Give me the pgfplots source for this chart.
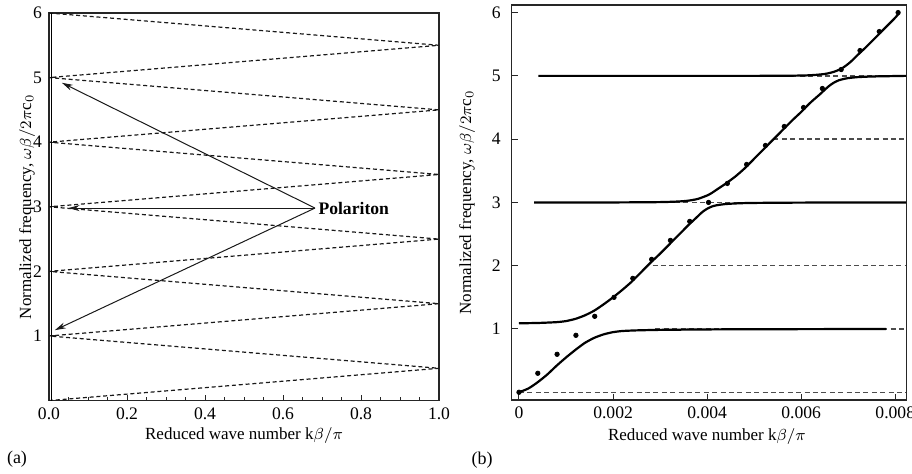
\documentclass[border=0pt]{standalone}
\usepackage{pgfplots}
\pgfplotsset{compat=1.18}
\usepackage{fontspec}
\setmainfont{Liberation Serif}
\usetikzlibrary{arrows.meta}

\pgfplotsset{
  panel/.style={
    scale only axis, anchor=south west,
    axis line style={black!85, line width=0.6pt},
    tick style={black!85, line width=0.5pt}, tick pos=left,
    major tick length=3pt, minor tick length=1.8pt,
    ticklabel style={font=\fontsize{8.8}{10}\selectfont},
    label style={font=\fontsize{8.5}{10}\selectfont},
    /pgf/number format/assume math mode=true,
    ylabel={Normalized frequency, $\omega\beta/2\pi\mathrm{c}_0$},
    xlabel={Reduced wave number k$\beta/\pi$},
    ytick={1,2,3,4,5,6},
  },
  folded/.style={black!90, line width=0.6pt, dash pattern=on 2pt off 1.4pt},
  level/.style={black!70, line width=0.7pt, dash pattern=on 2.5pt off 1.7pt},
  branch/.style={black, line width=1.1pt, smooth, tension=0.4},
}

\begin{document}
\begin{tikzpicture}
% (a) folded light line
\begin{axis}[panel, at={(24.5pt,36.7pt)}, width=195pt, height=193.8pt,
  xmin=0, xmax=1, ymin=0, ymax=6,
  xtick={0,0.2,0.4,0.6,0.8,1}, minor x tick num=3,
  xticklabel style={/pgf/number format/.cd,fixed,fixed zerofill,precision=1},
  xlabel style={at={(axis description cs:0.5,-0.089)},anchor=center},
  ylabel style={at={(axis description cs:-0.056,0.5)},anchor=center}]
  \addplot[folded] coordinates {
    (0,0) (1,0.5) (0,1) (1,1.5) (0,2) (1,2.5) (0,3)
    (1,3.5) (0,4) (1,4.5) (0,5) (1,5.5) (0,6)
  };
  \addplot[black, line width=0.8pt] coordinates {(0.006,0) (0.006,6)};
  \draw[-{Stealth[length=5.5pt,width=3pt]}, line width=0.5pt, black!90]
    (axis cs:0.682,2.98) -- (axis cs:0.033,4.92);
  \draw[-{Stealth[length=5.5pt,width=3pt]}, line width=0.5pt, black!90]
    (axis cs:0.682,2.98) -- (axis cs:0.05,2.98);
  \draw[-{Stealth[length=5.5pt,width=3pt]}, line width=0.5pt, black!90]
    (axis cs:0.682,2.98) -- (axis cs:0.015,1.09);
  \node[anchor=west, inner sep=1pt, font=\fontsize{8.8}{10}\selectfont\bfseries]
    at (axis cs:0.685,2.98) {Polariton};
\end{axis}

% (b) polariton branches
\begin{axis}[panel, at={(255.85pt,37pt)}, width=197.2pt, height=197.5pt,
  xmin=-0.000155, xmax=0.00823, ymin=-0.122, ymax=6.12,
  xtick={0,0.002,0.004,0.006,0.008}, scaled x ticks=false,
  xticklabel style={/pgf/number format/.cd,fixed,precision=3},
  yticklabel style={xshift=-2pt},
  xlabel style={at={(axis description cs:0.495,-0.093)},anchor=center},
  ylabel style={at={(axis description cs:-0.113,0.5)},anchor=center}]
  \addplot[level] coordinates {(0,0) (0.00823,0)};
  \addplot[level] coordinates {(0.0029,1) (0.00823,1)};
  \addplot[level] coordinates {(0.00284,2) (0.00823,2)};
  \addplot[level] coordinates {(0.00296,3) (0.00823,3)};
  \addplot[level] coordinates {(0.00541,4) (0.00823,4)};
  \addplot[level] coordinates {(0.0049,5) (0.00823,5)};
  % lower branch
  \addplot[branch] coordinates {
    (0,0) (0.0002,0.06) (0.0004,0.16) (0.0006,0.28) (0.0008,0.42)
    (0.001,0.55) (0.0012,0.67) (0.0014,0.78) (0.0016,0.86) (0.0018,0.915)
    (0.002,0.95) (0.0022,0.968) (0.0025,0.978) (0.003,0.986) (0.004,0.993)
    (0.005,0.996) (0.0078,1.0)
  };
  % second branch
  \addplot[branch] coordinates {
    (0,1.09) (0.0004,1.095) (0.0008,1.108) (0.001,1.125) (0.0012,1.16)
    (0.0014,1.215) (0.0016,1.29) (0.0018,1.39) (0.002,1.5) (0.0022,1.62)
    (0.0024,1.75) (0.0026,1.9) (0.0028,2.05) (0.003,2.19) (0.0032,2.34)
    (0.0034,2.49) (0.0036,2.64) (0.0037,2.71) (0.0038,2.78) (0.0039,2.85)
    (0.004,2.9) (0.0041,2.935) (0.0042,2.955) (0.0044,2.975) (0.0047,2.987)
    (0.005,2.992) (0.006,2.997) (0.00823,3.0)
  };
  % third branch
  \addplot[branch] coordinates {
    (0.00032,3.0) (0.002,3.0) (0.003,3.005) (0.0034,3.015) (0.0036,3.028)
    (0.0038,3.055) (0.004,3.11) (0.0041,3.15) (0.0042,3.2) (0.0043,3.25)
    (0.0044,3.3) (0.0046,3.41) (0.0048,3.54) (0.005,3.69) (0.0052,3.84)
    (0.0054,3.99) (0.0056,4.14) (0.0058,4.29) (0.006,4.43) (0.0062,4.58)
    (0.0064,4.71) (0.0065,4.78) (0.0066,4.845) (0.0067,4.895) (0.0068,4.93)
    (0.0069,4.95) (0.007,4.965) (0.0072,4.98) (0.0075,4.99) (0.008,4.997)
    (0.00823,5.0)
  };
  % top branch
  \addplot[branch] coordinates {
    (0.00041,5.0) (0.005,5.0) (0.006,5.005) (0.0063,5.015) (0.0065,5.03)
    (0.0066,5.045) (0.0067,5.065) (0.0068,5.095) (0.0069,5.135) (0.007,5.19)
    (0.0071,5.255) (0.0072,5.33) (0.0074,5.47) (0.0076,5.62) (0.0078,5.77)
    (0.008,5.92) (0.00808,5.99)
  };
  % measured points
  \addplot[only marks, mark=*, mark size=1.1pt, black] coordinates {
    (0,0) (0.00040,0.3) (0.00081,0.6) (0.00121,0.9) (0.00161,1.2)
    (0.00202,1.5) (0.00242,1.8) (0.00282,2.1) (0.00322,2.4) (0.00363,2.7)
    (0.00403,3.0) (0.00443,3.3) (0.00484,3.6) (0.00524,3.9) (0.00564,4.2)
    (0.00605,4.5) (0.00645,4.8) (0.00685,5.1) (0.00725,5.4) (0.00766,5.7)
    (0.00806,6.0)
  };
\end{axis}

\node[font=\fontsize{9}{11}\selectfont] at (8.5pt,7.5pt) {(a)};
\node[font=\fontsize{9}{11}\selectfont] at (241pt,7pt) {(b)};

\pgfresetboundingbox
\useasboundingbox (0,0) rectangle (456pt,237pt);
\end{tikzpicture}
\end{document}
